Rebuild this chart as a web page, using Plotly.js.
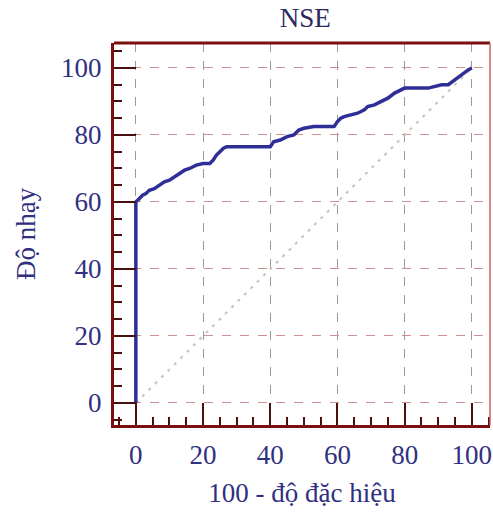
<!DOCTYPE html>
<html>
<head>
<meta charset="utf-8">
<script src="https://cdn.plot.ly/plotly-3.0.1.min.js"></script>
<style>html,body{margin:0;padding:0;background:#fff;}#chart{width:493px;height:521px;}</style>
</head>
<body>
<div id="chart"></div>
<script>
// ROC curve for NSE: x = 100 - specificity, y = sensitivity
const fpr = [0, 0, 1, 2, 3, 4, 5.5, 7, 8.5, 10, 11.5, 13, 14.5, 16, 18, 20, 22, 23, 24, 25, 26, 27, 40, 41, 43, 45, 47, 48.5, 50, 53, 59, 60, 61, 62, 64, 66, 68, 69, 71, 73, 75, 77, 79, 80, 87, 89, 91, 93, 95, 96, 97, 98, 99, 100];
const sens = [0, 60, 61, 62, 62.5, 63.5, 64, 65, 66, 66.5, 67.5, 68.5, 69.5, 70, 71, 71.5, 71.5, 72.5, 74, 75, 76, 76.5, 76.5, 78, 78.5, 79.5, 80, 81.5, 82, 82.5, 82.5, 84, 85, 85.5, 86, 86.5, 87.5, 88.5, 89, 90, 91, 92.5, 93.5, 94, 94, 94.5, 95, 95, 96.5, 97.5, 98, 99, 99.5, 100];
const diagX = [0, 100];
const diagY = [0, 100];
const tickVals = [0, 20, 40, 60, 80, 100];
const tickText = ['0', '20', '40', '60', '80', '100'];
const chartTitle = 'NSE';
const xTitle = '100 - độ đặc hiệu';
const yTitle = 'Độ nhạy';

const serif = '"Liberation Serif", "DejaVu Serif", serif';
const navy = '#303080';
const frame = '#7a0f12';

const traces = [
  {x: diagX, y: diagY, mode: 'lines', line: {color: 'rgb(200,192,185)', width: 2, dash: '3px,6px'}, hoverinfo: 'skip'},
  {x: fpr, y: sens, mode: 'lines', line: {color: '#2e2e96', width: 3.5, shape: 'linear'}}
];

const layout = {
  width: 493, height: 521,
  margin: {l: 114, r: 3, t: 43, b: 96},
  paper_bgcolor: '#fff', plot_bgcolor: '#fff',
  showlegend: false,
  title: {text: chartTitle, font: {family: serif, size: 27, color: '#2a2a60'}, x: 0.619, xanchor: 'center', y: 0.967, yanchor: 'middle'},
  xaxis: {
    range: [-6.5, 105.4], tickvals: tickVals, ticktext: tickText,
    showgrid: true, gridcolor: '#9a9a9a', griddash: 'dash', gridwidth: 1,
    zeroline: false, showline: true, linecolor: frame, linewidth: 3,
    ticks: 'inside', ticklen: 22, tickwidth: 2, tickcolor: '#4a1010',
    minor: {dtick: 5, tick0: 0, ticks: 'inside', ticklen: 8, tickwidth: 2, tickcolor: '#4a1010', showgrid: false},
    tickfont: {family: serif, size: 27, color: navy}, ticklabelstandoff: 4,
    title: {text: xTitle, font: {family: serif, size: 27, color: navy}, standoff: 14}
  },
  yaxis: {
    range: [-6.57, 107.46], tickvals: tickVals, ticktext: tickText,
    showgrid: true, gridcolor: '#d09090', griddash: 'dash', gridwidth: 1,
    zeroline: false, showline: true, linecolor: frame, linewidth: 3,
    ticks: 'inside', ticklen: 22, tickwidth: 2, tickcolor: '#4a1010',
    minor: {dtick: 5, tick0: 0, ticks: 'inside', ticklen: 8, tickwidth: 2, tickcolor: '#4a1010', showgrid: false},
    tickfont: {family: serif, size: 27, color: navy}, ticklabelstandoff: 4,
    title: {text: yTitle, font: {family: serif, size: 27, color: navy}, standoff: 18}
  },
  shapes: [
    {type: 'line', xref: 'paper', yref: 'paper', x0: 0, x1: 1, y0: 1, y1: 1, line: {color: frame, width: 3}},
    {type: 'line', xref: 'paper', yref: 'paper', x0: 1, x1: 1, y0: 0, y1: 1, line: {color: '#d06060', width: 1.5}}
  ]
};

Plotly.newPlot('chart', traces, layout, {displayModeBar: false, staticPlot: true});
</script>
</body>
</html>
